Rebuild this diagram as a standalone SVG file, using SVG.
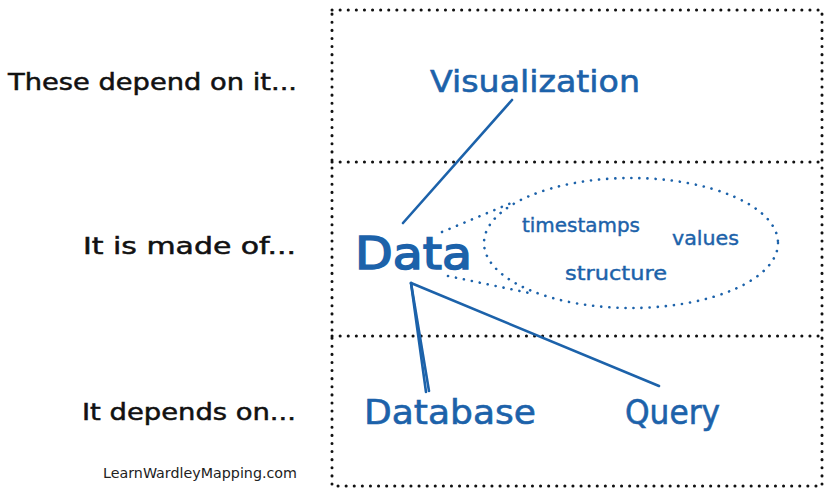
<svg xmlns="http://www.w3.org/2000/svg" width="830" height="496" viewBox="0 0 830 496">
<style>
.lbl{font-family:"DejaVu Sans","Liberation Sans",sans-serif;fill:#111;font-size:23px;stroke:#111;stroke-width:0.5}
.node{font-family:"DejaVu Sans","Liberation Sans",sans-serif;fill:#1c62aa}
.frame{fill:none;stroke:#111;stroke-width:3;stroke-linecap:round;stroke-dasharray:0.1 8}
.link{fill:none;stroke:#1c62aa;stroke-width:2.6;stroke-linecap:round}
.dot{fill:none;stroke:#1c62aa;stroke-width:2.6;stroke-linecap:round;stroke-dasharray:0.1 8}
</style>
<rect width="830" height="496" fill="#fff"/>
<g id="frame">
<rect class="frame" x="332" y="10" width="490" height="476"/>
<line class="frame" x1="332" y1="162" x2="822" y2="162"/>
<line class="frame" x1="332" y1="336" x2="822" y2="336"/>
</g>
<g id="labels">
<text class="lbl" x="8" y="90" textLength="289" lengthAdjust="spacingAndGlyphs">These depend on it...</text>
<text class="lbl" x="83" y="254" textLength="213" lengthAdjust="spacingAndGlyphs">It is made of...</text>
<text class="lbl" x="82" y="420" textLength="214" lengthAdjust="spacingAndGlyphs">It depends on...</text>
<text x="103" y="478" font-family="DejaVu Sans, sans-serif" font-size="14" fill="#222" textLength="194" lengthAdjust="spacingAndGlyphs">LearnWardleyMapping.com</text>
</g>
<g id="connectors">
<line class="link" x1="512" y1="100" x2="403" y2="223"/>
<line class="link" x1="411" y1="283" x2="426" y2="392"/>
<line class="link" x1="411" y1="283" x2="429" y2="391"/>
<line class="link" x1="411" y1="283" x2="659" y2="386"/>
<line class="dot" x1="442" y1="232" x2="516" y2="201"/>
<line class="dot" x1="448" y1="276" x2="534" y2="294"/>
</g>
<g id="node-visualization"><text class="node" x="430" y="92" font-size="31" stroke="#1c62aa" stroke-width="0.6" textLength="210" lengthAdjust="spacingAndGlyphs">Visualization</text></g>
<g id="node-data"><text class="node" x="355" y="269" font-size="44" stroke="#1c62aa" stroke-width="1.6" textLength="117" lengthAdjust="spacingAndGlyphs">Data</text></g>
<g id="node-components">
<ellipse class="dot" cx="631" cy="243" rx="147" ry="65"/>
<text class="node" x="522" y="232" font-size="19" stroke="#1c62aa" stroke-width="0.4" textLength="118" lengthAdjust="spacingAndGlyphs">timestamps</text>
<text class="node" x="672" y="245" font-size="19" stroke="#1c62aa" stroke-width="0.4" textLength="67" lengthAdjust="spacingAndGlyphs">values</text>
<text class="node" x="565" y="280" font-size="19" stroke="#1c62aa" stroke-width="0.4" textLength="102" lengthAdjust="spacingAndGlyphs">structure</text>
</g>
<g id="node-database"><text class="node" x="364" y="424" font-size="33" stroke="#1c62aa" stroke-width="0.6" textLength="172" lengthAdjust="spacingAndGlyphs">Database</text></g>
<g id="node-query"><text class="node" x="625" y="424" font-size="33" stroke="#1c62aa" stroke-width="0.6" textLength="95" lengthAdjust="spacingAndGlyphs">Query</text></g>
</svg>
